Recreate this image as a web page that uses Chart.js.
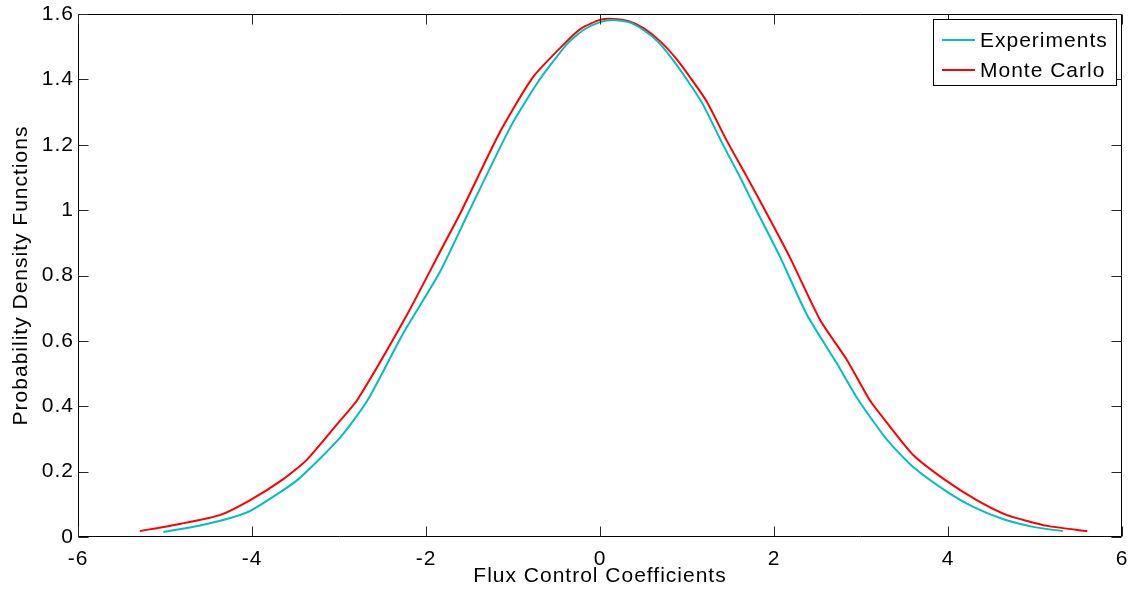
<!DOCTYPE html>
<html>
<head>
<meta charset="utf-8">
<script src="https://cdn.jsdelivr.net/npm/chart.js@4"></script>
<style>
html,body{margin:0;padding:0;background:#fff;}
#wrap{width:1135px;height:594px;position:relative;}
</style>
</head>
<body>
<div id="wrap"><canvas id="c"></canvas></div>
<script>
const xTicks = [-6, -4, -2, 0, 2, 4, 6];
const yTicks = [0, 0.2, 0.4, 0.6, 0.8, 1, 1.2, 1.4, 1.6];

const expX = [-5.02, -4.70, -4.33, -4.02, -3.48, -2.99, -2.67, -2.26, -1.84, -1.52, -1.03, -0.69, -0.38, -0.19, 0.00, 0.15, 0.33, 0.50, 0.67, 0.84, 1.01, 1.18, 1.41, 1.61, 1.82, 2.07, 2.38, 2.72, 2.97, 3.30, 3.60, 3.99, 4.29, 4.63, 4.98, 5.32];
const expY = [0.016, 0.030, 0.052, 0.080, 0.174, 0.303, 0.419, 0.624, 0.811, 0.988, 1.254, 1.401, 1.508, 1.551, 1.575, 1.582, 1.575, 1.551, 1.514, 1.459, 1.395, 1.325, 1.202, 1.101, 0.988, 0.857, 0.679, 0.532, 0.419, 0.297, 0.214, 0.138, 0.092, 0.055, 0.031, 0.018];

const mcX = [-5.29, -4.83, -4.37, -4.02, -3.64, -3.37, -2.99, -2.79, -2.22, -1.84, -1.61, -1.15, -0.77, -0.38, -0.21, 0.00, 0.15, 0.33, 0.50, 0.69, 0.88, 1.05, 1.23, 1.46, 1.69, 1.92, 2.18, 2.53, 2.84, 3.10, 3.30, 3.60, 3.97, 4.33, 4.68, 5.14, 5.60];
const mcY = [0.018, 0.040, 0.067, 0.113, 0.177, 0.236, 0.355, 0.419, 0.679, 0.872, 0.988, 1.239, 1.407, 1.517, 1.557, 1.582, 1.585, 1.578, 1.557, 1.517, 1.462, 1.401, 1.331, 1.211, 1.101, 0.988, 0.857, 0.664, 0.541, 0.419, 0.349, 0.251, 0.174, 0.113, 0.067, 0.034, 0.018];

const seriesNames = ['Experiments', 'Monte Carlo'];
const seriesColors = ['rgb(0,191,191)', 'rgb(255,0,0)'];

const FONT = 'Liberation Sans, Arial, Helvetica, sans-serif';
const FS = 21;
const LS = '1px';

function pts(xs, ys) { return xs.map((x, i) => ({ x: x, y: ys[i] })); }
function fmt(v) { return String(+Number(v).toFixed(2)); }

const spacingPlugin = {
  id: 'spacing',
  beforeLayout(chart) { chart.ctx.letterSpacing = LS; },
  beforeDraw(chart) { chart.ctx.letterSpacing = LS; }
};

const framePlugin = {
  id: 'frame',
  afterDraw(chart) {
    const ctx = chart.ctx;
    const a = chart.chartArea;
    const xs = chart.scales.x, ys = chart.scales.y;
    ctx.save();
    ctx.strokeStyle = '#000';
    ctx.lineWidth = 1;
    const L = Math.round(a.left) + 0.5, R = Math.round(a.right) - 0.5;
    const T = Math.round(a.top) + 0.5, B = Math.round(a.bottom) - 0.5;
    ctx.beginPath();
    ctx.rect(L, T, R - L, B - T);
    ctx.stroke();
    const tl = 10;
    ctx.strokeStyle = '#262626';
    ctx.beginPath();
    xTicks.forEach(v => {
      const p = Math.round(xs.getPixelForValue(v)) + 0.5;
      ctx.moveTo(p, B); ctx.lineTo(p, B - tl);
      ctx.moveTo(p, T); ctx.lineTo(p, T + tl);
    });
    yTicks.forEach(v => {
      const p = Math.round(ys.getPixelForValue(v)) + 0.5;
      ctx.moveTo(L, p); ctx.lineTo(L + tl, p);
      ctx.moveTo(R, p); ctx.lineTo(R - tl, p);
    });
    ctx.stroke();

    // legend
    const bx = 933.5, by = 19.5, bw = 183, bh = 66;
    ctx.fillStyle = '#fff';
    ctx.fillRect(bx, by, bw, bh);
    ctx.strokeStyle = '#000';
    ctx.strokeRect(bx, by, bw, bh);
    ctx.font = FS + 'px ' + FONT;
    ctx.letterSpacing = LS;
    ctx.textBaseline = 'middle';
    ctx.textAlign = 'left';
    chart.data.datasets.forEach((ds, i) => {
      const yy = 40 + i * 30;
      ctx.strokeStyle = ds.borderColor;
      ctx.lineWidth = 2;
      ctx.beginPath();
      ctx.moveTo(942, yy); ctx.lineTo(975, yy);
      ctx.stroke();
      ctx.fillStyle = '#000';
      ctx.fillText(ds.label, 980, yy + 1);
    });
    ctx.restore();
  }
};

new Chart(document.getElementById('c'), {
  type: 'line',
  data: {
    datasets: [
      { label: seriesNames[0], data: pts(expX, expY), borderColor: seriesColors[0], backgroundColor: seriesColors[0], borderWidth: 2, pointRadius: 0, tension: 0.2, fill: false },
      { label: seriesNames[1], data: pts(mcX, mcY), borderColor: seriesColors[1], backgroundColor: seriesColors[1], borderWidth: 2, pointRadius: 0, tension: 0.2, fill: false }
    ]
  },
  options: {
    responsive: true,
    maintainAspectRatio: false,
    animation: false,
    devicePixelRatio: 1,
    layout: { padding: { top: 14, right: 13, left: 0, bottom: 0 } },
    plugins: { legend: { display: false }, tooltip: { enabled: false } },
    scales: {
      x: {
        type: 'linear', position: 'bottom', min: -6, max: 6,
        afterBuildTicks: s => { s.ticks = xTicks.map(v => ({ value: v })); },
        afterFit: s => { s.height = 57; s.paddingLeft = 0; s.paddingRight = 0; },
        grid: { display: false, drawTicks: false },
        border: { display: false },
        ticks: { color: '#000', font: { family: FONT, size: FS }, padding: 10, maxRotation: 0, autoSkip: false, callback: v => fmt(v) },
        title: { display: true, text: 'Flux Control Coefficients', color: '#000', font: { family: FONT, size: FS }, padding: { top: 0, bottom: 5 } }
      },
      y: {
        type: 'linear', position: 'left', min: 0, max: 1.6,
        afterBuildTicks: s => { s.ticks = yTicks.map(v => ({ value: v })); },
        afterFit: s => { s.width = 78; s.paddingTop = 0; s.paddingBottom = 0; },
        grid: { display: false, drawTicks: false },
        border: { display: false },
        ticks: { color: '#000', font: { family: FONT, size: FS }, padding: 4, autoSkip: false, callback: v => fmt(v) },
        title: { display: true, text: 'Probability Density Functions', color: '#000', font: { family: FONT, size: FS }, padding: { top: 9, bottom: 0 } }
      }
    }
  },
  plugins: [spacingPlugin, framePlugin]
});
</script>
</body>
</html>
